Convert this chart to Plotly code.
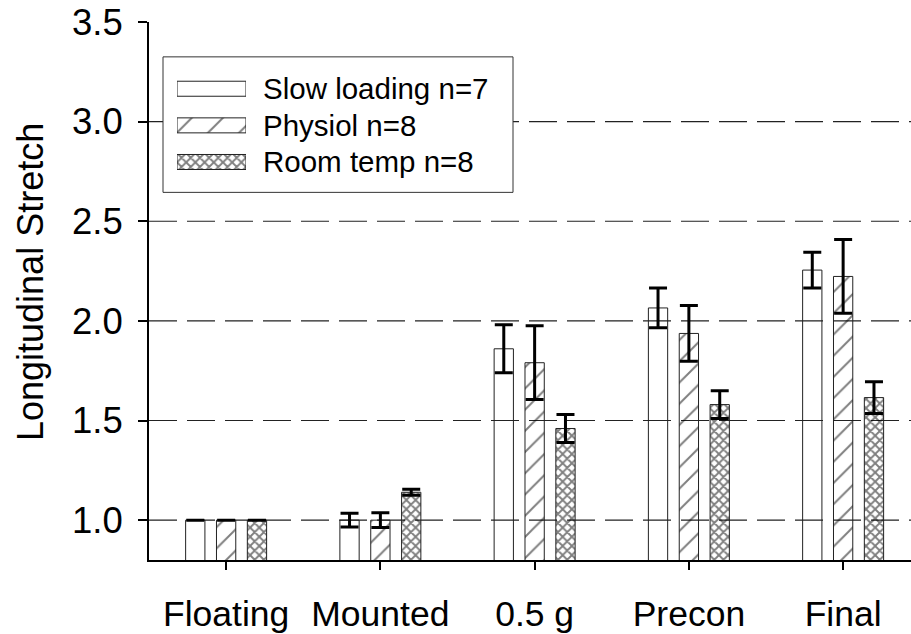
import plotly.graph_objects as go

# ---- data -------------------------------------------------------------
categories = ["Floating", "Mounted", "0.5 g", "Precon", "Final"]

slow_loading = [1.00, 1.00, 1.86, 2.065, 2.255]
slow_loading_err = [None, 0.035, 0.12, 0.10, 0.09]

physiol = [1.00, 1.00, 1.79, 1.937, 2.223]
physiol_err = [None, 0.037, 0.185, 0.14, 0.185]

room_temp = [1.00, 1.14, 1.46, 1.58, 1.615]
room_temp_err = [None, 0.015, 0.07, 0.07, 0.08]

series_names = ["Slow loading n=7", "Physiol n=8", "Room temp n=8"]
y_ticks = [1.0, 1.5, 2.0, 2.5, 3.0, 3.5]
grid_values = [1.0, 1.5, 2.0, 2.5, 3.0]

# ---- layout geometry ----------------------------------------------------
W, H = 911, 634
ML, MR, MT, MB = 149, 0, 22, 72
PW, PH = W - ML - MR, H - MT - MB
Y_RANGE = [0.8, 3.5]


def px_x(px):
    return (px - ML) / PW


def px_y(py):
    return (H - MB - py) / PH


FONT = "Liberation Sans, Arial, sans-serif"
EDGE = "#222222"

bar_width = 0.125
offsets = [-0.2, 0.0, 0.2]

patterns = [
    dict(shape=""),
    dict(shape="/", size=15, solidity=0.13, fgcolor="black", bgcolor="rgba(0,0,0,0)"),
    dict(shape="x", size=6.5, solidity=0.5, fgcolor="black", bgcolor="rgba(0,0,0,0)"),
]
values = [slow_loading, physiol, room_temp]
errors = [slow_loading_err, physiol_err, room_temp_err]

fig = go.Figure()

for name, vals, errs, off, pat in zip(series_names, values, errors, offsets, patterns):
    fig.add_trace(
        go.Bar(
            x=categories,
            y=vals,
            name=name,
            width=bar_width,
            offset=off - bar_width / 2,
            marker=dict(
                color="rgba(255,255,255,0)",
                line=dict(color=EDGE, width=1),
                pattern=pat,
            ),
            error_y=dict(
                type="data",
                array=errs,
                visible=True,
                color="black",
                thickness=3,
                width=9,
            ),
            showlegend=False,
            xaxis="x",
            yaxis="y",
        )
    )

# ---- legend swatches (drawn as bars on a small hidden axis pair) --------
legend_patterns = [
    dict(shape=""),
    dict(shape="/", size=22, solidity=0.09, fgcolor="black", bgcolor="white"),
    dict(shape="x", size=6.5, solidity=0.5, fgcolor="black", bgcolor="white"),
]
for i, (name, pat) in enumerate(zip(series_names, legend_patterns)):
    fig.add_trace(
        go.Bar(
            x=[1],
            y=[i],
            base=0,
            orientation="h",
            width=0.41,
            marker=dict(color="white", line=dict(color=EDGE, width=1), pattern=pat),
            showlegend=False,
            hoverinfo="skip",
            xaxis="x2",
            yaxis="y2",
        )
    )

row_py = [88.5, 125.5, 162.0]
annotations = []
for name, py in zip(series_names, row_py):
    annotations.append(
        dict(
            text=name,
            xref="paper",
            yref="paper",
            x=px_x(261),
            y=px_y(py),
            xanchor="left",
            yanchor="middle",
            showarrow=False,
            font=dict(family=FONT, size=29.5, color="black"),
        )
    )

annotations.append(
    dict(
        text="Longitudinal Stretch",
        xref="paper",
        yref="paper",
        x=px_x(30),
        y=px_y(283),
        xanchor="center",
        yanchor="middle",
        textangle=-90,
        showarrow=False,
        font=dict(family=FONT, size=36, color="black"),
    )
)

# dashed horizontal grid, drawn under the bars
shapes = [
    dict(
        type="line",
        xref="x domain",
        yref="y",
        x0=0,
        x1=1,
        y0=g,
        y1=g,
        line=dict(color="#222222", width=1.2, dash="28px,10px"),
        layer="below",
    )
    for g in grid_values
]

# legend frame: covers the grid, swatch bars sit on top of it
shapes.append(
    dict(
        type="rect",
        xref="x domain",
        yref="y domain",
        x0=px_x(163),
        x1=px_x(513),
        y0=px_y(193),
        y1=px_y(57),
        fillcolor="white",
        line=dict(color="#333333", width=1),
        layer="below",
    )
)

fig.update_layout(
    width=W,
    height=H,
    margin=dict(l=ML, r=MR, t=MT, b=MB, pad=0),
    paper_bgcolor="white",
    plot_bgcolor="white",
    barmode="overlay",
    showlegend=False,
    font=dict(family=FONT, color="black"),
    annotations=annotations,
    shapes=shapes,
    xaxis=dict(
        type="category",
        categoryorder="array",
        categoryarray=categories,
        range=[-0.5, 4.44],
        showgrid=False,
        showline=True,
        linecolor="black",
        linewidth=2,
        ticks="outside",
        ticklen=8,
        tickwidth=1.5,
        tickcolor="black",
        tickfont=dict(family=FONT, size=35.5, color="black"),
        ticklabelstandoff=13,
        zeroline=False,
        fixedrange=True,
    ),
    yaxis=dict(
        range=Y_RANGE,
        tickmode="array",
        tickvals=y_ticks,
        ticktext=[f"{v:.1f}" for v in y_ticks],
        showgrid=False,
        showline=True,
        linecolor="black",
        linewidth=2,
        ticks="outside",
        ticklen=9,
        tickwidth=1.5,
        tickcolor="black",
        tickfont=dict(family=FONT, size=36.5, color="black"),
        ticklabelstandoff=8,
        zeroline=False,
        fixedrange=True,
    ),
    xaxis2=dict(
        domain=[px_x(177), px_x(246)],
        anchor="y2",
        range=[0, 1],
        visible=False,
        fixedrange=True,
    ),
    yaxis2=dict(
        domain=[px_y(180.9), px_y(70.6)],
        anchor="x2",
        range=[2.5, -0.5],
        visible=False,
        fixedrange=True,
    ),
)

fig.write_html("out.html")
